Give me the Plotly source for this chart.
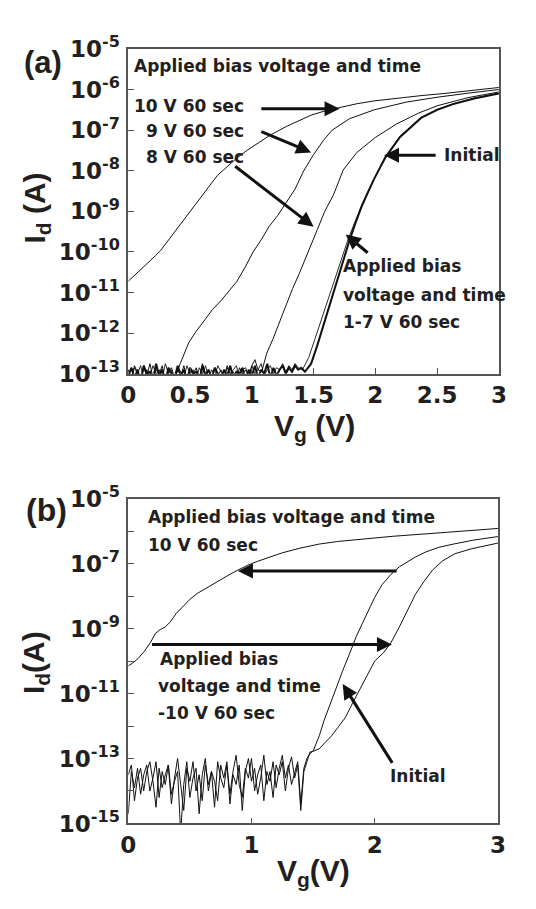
import numpy as np
import plotly.graph_objects as go

# ---------------- data (log10 of Id in A) ----------------
# sweep step of the noise-floor part of the measurement
STEP = 0.025

# Panel (a)
a_10v_vg = [0, 0.05, 0.10, 0.13, 0.17, 0.22, 0.26, 0.30, 0.35, 0.41, 0.48, 0.55, 0.62, 0.72,
            0.80, 0.87, 0.96, 1.05, 1.15, 1.28, 1.38, 1.48, 1.60, 1.71, 1.85, 1.99, 2.18,
            2.37, 2.55, 2.75, 2.90, 3.0]
a_10v_log = [-10.72, -10.58, -10.45, -10.36, -10.25, -10.09, -9.97, -9.81, -9.60, -9.37,
             -9.10, -8.80, -8.52, -8.12, -7.90, -7.71, -7.50, -7.31, -7.12, -6.91, -6.76,
             -6.63, -6.52, -6.44, -6.35, -6.28, -6.21, -6.15, -6.10, -6.04, -5.99, -5.95]

a_9v_noise = [-13.05, -12.85, -13.1, -12.9, -13.2, -12.8, -13.0, -12.95, -13.15, -12.8,
              -13.05, -12.9, -13.2, -12.85, -13.0, -13.1]
a_9v_vg = [0.39, 0.42, 0.49, 0.55, 0.62, 0.68, 0.75, 0.82, 0.88, 0.95, 1.01, 1.08, 1.14,
           1.21, 1.27, 1.35, 1.42, 1.50, 1.58, 1.65, 1.79, 1.99, 2.25, 2.50, 2.75, 3.0]
a_9v_log = [-13.0, -12.75, -12.23, -11.95, -11.67, -11.42, -11.2, -10.95, -10.72, -10.35,
            -10.0, -9.68, -9.37, -9.10, -8.82, -8.45, -8.0, -7.6, -7.25, -7.0, -6.72,
            -6.50, -6.31, -6.19, -6.09, -6.0]

a_8v_noise = [-12.9, -13.1, -12.8, -13.0, -13.15, -12.85, -13.05, -12.75, -13.1, -12.9,
              -13.0, -12.8, -13.2, -12.95, -12.85, -13.1, -12.9, -13.05, -12.8, -13.15,
              -12.9, -13.0, -12.85, -13.1, -12.75, -13.0, -12.9, -13.2, -12.85, -13.05,
              -12.9, -13.1, -12.8, -13.0, -12.95, -13.15, -12.85, -13.0, -12.9, -13.1,
              -12.8, -12.65, -12.9]
a_8v_vg = [1.08, 1.12, 1.17, 1.22, 1.27, 1.33, 1.38, 1.43, 1.48, 1.53, 1.59, 1.66, 1.74,
           1.85, 2.0, 2.17, 2.35, 2.5, 2.75, 3.0]
a_8v_log = [-12.95, -12.5, -12.15, -11.75, -11.36, -10.9, -10.56, -10.2, -9.85, -9.45,
            -9.0, -8.6, -7.98, -7.55, -7.18, -6.85, -6.58, -6.40, -6.20, -6.06]

a_init_noise = [-13.05, -12.85, -13.1, -12.9, -13.2, -12.8, -13.0, -12.95, -13.15, -12.75,
                -13.05, -12.9, -13.2, -12.85, -13.0, -13.1, -12.8, -13.05, -12.9, -13.15,
                -12.85, -13.0, -12.95, -13.2, -12.8, -13.05, -12.9, -13.1, -12.85, -13.0,
                -13.15, -12.9, -13.05, -12.8, -13.1, -12.95, -13.0, -12.85, -13.2, -12.9,
                -13.05, -12.8, -13.1, -12.9, -13.0, -12.75, -13.1, -12.85, -13.05, -12.9,
                -12.8, -13.0, -12.85, -12.95, -12.8, -12.9, -12.85]
a_init_vg = [1.43, 1.48, 1.53, 1.58, 1.63, 1.68, 1.74, 1.79, 1.84, 1.89, 1.94, 1.99, 2.08,
             2.20, 2.37, 2.50, 2.63, 2.80, 3.0]
a_init_log = [-12.95, -12.75, -12.3, -11.8, -11.3, -10.85, -10.2, -9.72, -9.28, -8.87,
              -8.53, -8.2, -7.68, -7.17, -6.70, -6.50, -6.36, -6.22, -6.10]

a_b17_noise = [-12.9, -13.1, -12.85, -13.0, -12.8, -13.15, -12.9, -13.05, -12.8, -13.0,
               -12.9, -13.1, -12.75, -13.0, -12.9, -13.2, -12.85, -12.95, -13.1, -12.8,
               -13.0, -12.9, -13.15, -12.85, -13.0, -12.8, -13.1, -12.9, -13.05, -12.8,
               -12.95, -13.1, -12.85, -13.0, -12.9, -12.8, -13.1, -12.9, -12.85, -13.05,
               -12.8, -13.0, -12.9, -12.75, -13.05, -12.9, -12.8, -13.0, -12.85, -12.9,
               -12.75, -12.95, -12.8, -12.9, -12.75, -12.85]
a_b17_vg = [1.41, 1.46, 1.51, 1.56, 1.61, 1.67, 1.73, 1.78, 1.84, 1.89, 1.95, 2.0, 2.08,
            2.20, 2.37, 2.50, 2.63, 2.80, 3.0]
a_b17_log = [-12.9, -12.6, -12.15, -11.7, -11.2, -10.7, -10.15, -9.68, -9.22, -8.84,
             -8.46, -8.16, -7.65, -7.15, -6.69, -6.49, -6.35, -6.21, -6.09]

# Panel (b)
b_p10v_vg = [0, 0.04, 0.08, 0.13, 0.18, 0.22, 0.26, 0.30, 0.34, 0.39, 0.45, 0.50, 0.56,
             0.63, 0.70, 0.77, 0.83, 0.89, 0.97, 1.05, 1.13, 1.25, 1.39, 1.55, 1.70, 1.91,
             2.15, 2.44, 2.70, 3.0]
b_p10v_log = [-10.15, -10.05, -9.92, -9.70, -9.43, -9.15, -9.03, -8.95, -8.80, -8.53,
              -8.30, -8.10, -7.92, -7.76, -7.60, -7.44, -7.32, -7.20, -7.05, -6.93, -6.82,
              -6.67, -6.53, -6.40, -6.32, -6.24, -6.16, -6.08, -6.0, -5.92]

b_init_noise = [-14.7, -13.4, -13.9, -13.3, -14.1, -13.5, -13.2, -14.0, -13.6, -13.1,
                -14.2, -13.4, -13.8, -13.2, -14.4, -13.6, -13.0, -13.9, -14.6, -13.3,
                -13.7, -13.1, -14.0, -13.5, -14.3, -13.2, -13.8, -13.4, -14.5, -13.1,
                -13.6, -13.9, -13.2, -14.1, -13.4, -12.9, -13.8, -14.2, -13.3, -13.6,
                -13.0, -14.0, -13.5, -13.2, -14.3, -13.4, -13.7, -13.1, -13.9, -13.3,
                -12.9, -13.6, -13.2, -13.8, -13.4, -13.1, -14.4, -13.3, -13.0, -12.85]
b_init_vg = [1.50, 1.55, 1.59, 1.64, 1.69, 1.74, 1.79, 1.85, 1.90, 1.95, 2.0, 2.06, 2.13,
             2.20, 2.26, 2.33, 2.41, 2.52, 2.64, 2.80, 3.0]
b_init_log = [-12.77, -12.3, -11.82, -11.3, -10.83, -10.3, -9.83, -9.25, -8.84, -8.42,
              -8.04, -7.65, -7.34, -7.10, -6.95, -6.80, -6.65, -6.50, -6.40, -6.28, -6.17]

b_m10v_noise = [-13.5, -13.2, -14.3, -13.6, -13.3, -14.0, -13.4, -13.1, -13.7, -14.5,
                -13.3, -13.9, -13.5, -13.2, -14.1, -13.7, -13.4, -15.3, -13.8, -13.1,
                -14.2, -13.6, -13.3, -14.7, -13.5, -13.0, -14.0, -13.4, -13.7, -14.3,
                -13.2, -13.6, -13.1, -14.4, -13.5, -13.8, -13.2, -14.6, -13.4, -13.0,
                -13.7, -13.3, -14.1, -13.6, -12.9, -13.8, -13.4, -14.2, -13.2, -13.5,
                -13.1, -14.0, -13.3, -12.95, -13.6, -13.2, -14.6, -13.4, -13.1, -12.8]
b_m10v_vg = [1.50, 1.55, 1.60, 1.65, 1.70, 1.76, 1.82, 1.88, 1.94, 2.0, 2.07, 2.13, 2.20,
             2.27, 2.33, 2.40, 2.47, 2.55, 2.65, 2.78, 2.90, 3.0]
b_m10v_log = [-12.78, -12.7, -12.5, -12.3, -12.05, -11.75, -11.3, -10.85, -10.4, -10.0,
              -9.75, -9.45, -8.95, -8.4, -7.95, -7.55, -7.2, -6.92, -6.70, -6.55, -6.45,
              -6.37]

a_xticks = [0, 0.5, 1, 1.5, 2, 2.5, 3]
a_xticktext = ["0", "0.5", "1", "1.5", "2", "2.5", "3"]
a_yexp = [-5, -6, -7, -8, -9, -10, -11, -12, -13]
b_xticks = [0, 1, 2, 3]
b_xticktext = ["0", "1", "2", "3"]
b_yexp = [-5, -6, -7, -8, -9, -10, -11, -12, -13, -14, -15]
b_ylabeled = [-5, -7, -9, -11, -13, -15]

# ---------------- figure ----------------
W, H = 536, 909
INK = "#231f20"
TICKFONT = dict(family="DejaVu Sans", size=23, color=INK, weight="bold")
ARIAL = "Liberation Sans"


def fx(p):
    return p / W


def fy(p):
    return 1 - p / H


def with_noise(noise, vg, logy):
    xs = [i * STEP for i in range(len(noise))] + list(vg)
    ys = list(noise) + list(logy)
    return xs, 10 ** np.array(ys)


fig = go.Figure()


def add(xs, ys, xa, ya, w=1.0):
    fig.add_trace(go.Scatter(x=xs, y=ys, mode="lines", xaxis=xa, yaxis=ya,
                             line=dict(color="#111111", width=w), showlegend=False,
                             hoverinfo="skip"))


add(a_10v_vg, 10 ** np.array(a_10v_log), "x", "y")
add(*with_noise(a_9v_noise, a_9v_vg, a_9v_log), "x", "y")
add(*with_noise(a_8v_noise, a_8v_vg, a_8v_log), "x", "y")
add(*with_noise(a_b17_noise, a_b17_vg, a_b17_log), "x", "y", 0.9)
add(*with_noise(a_init_noise, a_init_vg, a_init_log), "x", "y", 2.0)

add(b_p10v_vg, 10 ** np.array(b_p10v_log), "x2", "y2")
add(*with_noise(b_init_noise, b_init_vg, b_init_log), "x2", "y2")
add(*with_noise(b_m10v_noise, b_m10v_vg, b_m10v_log), "x2", "y2")

axis_common = dict(showline=True, linecolor="#555555", linewidth=1.5, mirror=True,
                   showgrid=False, zeroline=False, ticks="inside", ticklen=6,
                   tickcolor="#555555", tickwidth=1.3, tickfont=TICKFONT)

fig.update_layout(
    width=W, height=H, margin=dict(l=0, r=0, t=0, b=0),
    paper_bgcolor="white", plot_bgcolor="white",
    xaxis=dict(domain=[fx(124), fx(506)], anchor="y", range=[0, 3],
               tickvals=a_xticks, ticktext=a_xticktext, **axis_common),
    yaxis=dict(domain=[fy(369), fy(33)], anchor="x", type="log", range=[-13, -5],
               tickvals=[10.0 ** e for e in a_yexp],
               ticktext=[f"10<sup>{e}</sup>" for e in a_yexp],
               ticklabelstandoff=2, **axis_common),
    xaxis2=dict(domain=[fx(124), fx(505)], anchor="y2", range=[0, 3],
                tickvals=b_xticks, ticktext=b_xticktext, **axis_common),
    yaxis2=dict(domain=[fy(834), fy(498)], anchor="x2", type="log", range=[-15, -5],
                tickvals=[10.0 ** e for e in b_yexp],
                ticktext=[f"10<sup>{e}</sup>" if e in b_ylabeled else "" for e in b_yexp],
                ticklabelstandoff=2, **axis_common),
)

anns = []


def txt(text, x, y, size=17, family="DejaVu Sans", xanchor="left", angle=0):
    anns.append(dict(text=text, x=fx(x), y=fy(y), xref="paper", yref="paper",
                     xanchor=xanchor, yanchor="middle", showarrow=False,
                     textangle=angle,
                     font=dict(family=family, size=size, color=INK, weight="bold")))


def arrow(xr, yr, hx, hy, tx, ty, w=3.0):
    anns.append(dict(text="", x=hx, y=hy, ax=tx, ay=ty, xref=xr, yref=yr,
                     axref=xr, ayref=yr, showarrow=True, arrowhead=2, arrowsize=1.0,
                     arrowwidth=w, arrowcolor="#111111", standoff=0))


# panel labels and axis titles
txt("(a)", 36, 47, size=31, family=ARIAL, xanchor="center")
txt("(b)", 40, 510, size=32, family=ARIAL, xanchor="center")
txt("I<sub>d</sub> (A)", 29, 198, size=30, family=ARIAL, xanchor="center", angle=-90)
txt("I<sub>d</sub>(A)", 29, 668, size=30, family=ARIAL, xanchor="center", angle=-90)
txt("V<sub>g</sub> (V)", 316, 425, size=30, family=ARIAL, xanchor="center")
txt("V<sub>g</sub>(V)", 315, 885, size=30, family=ARIAL, xanchor="center")

# panel (a) texts
txt("Applied bias voltage and time", 128, 51)
txt("10 V 60 sec", 128, 92)
txt("9 V 60 sec", 140, 118)
txt("8 V 60 sec", 140, 145)
txt("Initial", 447, 143)
txt("Applied bias", 343, 258)
txt("voltage and time", 343, 287)
txt("1-7 V 60 sec", 343, 315)

# panel (b) texts
txt("Applied bias voltage and time", 142, 517)
txt("10 V 60 sec", 142, 546)
txt("Applied bias", 155, 664)
txt("voltage and time", 153, 692)
txt("-10 V 60 sec", 153, 720)
txt("Initial", 392, 785)

# arrows (head, tail) in data coordinates (log10 for y)
arrow("x", "y", 1.71, -6.476, 1.065, -6.476)
arrow("x", "y", 1.48, -7.55, 1.065, -7.02)
arrow("x", "y", 1.50, -9.38, 0.853, -7.86)
arrow("x", "y", 2.07, -7.62, 2.50, -7.62)
arrow("x", "y", 1.76, -9.57, 1.95, -10.05)

arrow("x2", "y2", 0.89, -7.23, 2.19, -7.23)
arrow("x2", "y2", 2.14, -9.49, 0.18, -9.49)
arrow("x2", "y2", 1.74, -10.71, 2.15, -13.18)

fig.update_layout(annotations=anns)
fig.write_html("out.html")
